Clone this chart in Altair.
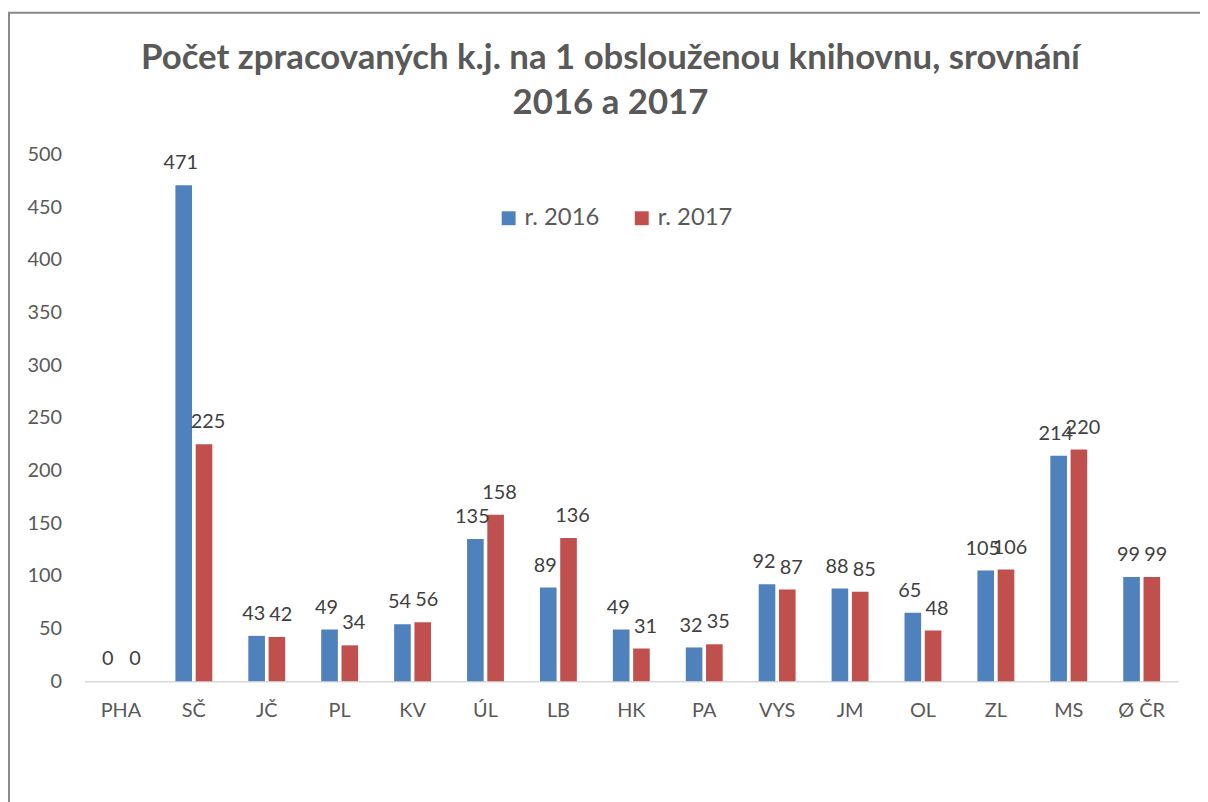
import altair as alt
import pandas as pd

categories = ["PHA", "SČ", "JČ", "PL", "KV", "ÚL", "LB", "HK", "PA", "VYS", "JM", "OL", "ZL", "MS", "Ø ČR"]
values_2016 = [0, 471, 43, 49, 54, 135, 89, 49, 32, 92, 88, 65, 105, 214, 99]
values_2017 = [0, 225, 42, 34, 56, 158, 136, 31, 35, 87, 85, 48, 106, 220, 99]
series = ["r. 2016", "r. 2017"]
y_ticks = [0, 50, 100, 150, 200, 250, 300, 350, 400, 450, 500]
title_lines = ["Počet zpracovaných k.j. na 1 obslouženou knihovnu, srovnání", "2016 a 2017"]

rows = []
for c, a, b in zip(categories, values_2016, values_2017):
    rows.append({"kraj": c, "rok": series[0], "hodnota": a})
    rows.append({"kraj": c, "rok": series[1], "hodnota": b})
df = pd.DataFrame(rows)

W, H = 1101, 530
FONT = "Lato"

x = alt.X(
    "kraj:N", sort=categories,
    scale=alt.Scale(paddingInner=0.494, paddingOuter=0.247),
    axis=alt.Axis(title=None, labelAngle=0, labelFontSize=20, labelColor="#595959",
                  labelFont=FONT, labelPadding=20, ticks=False,
                  domainColor="#D9D9D9", domainWidth=1.5),
)
xoff = alt.XOffset("rok:N", sort=series, scale=alt.Scale(paddingInner=0.18, paddingOuter=0))
y = alt.Y(
    "hodnota:Q",
    scale=alt.Scale(domain=[0, 500], nice=False),
    axis=alt.Axis(title=None, values=y_ticks, grid=False, domain=False, ticks=False,
                  labelFontSize=20, labelColor="#595959", labelFont=FONT, labelPadding=23),
)
color = alt.Color(
    "rok:N", sort=series,
    scale=alt.Scale(domain=series, range=["#4F81BD", "#C0504D"]),
    legend=alt.Legend(title=None, orient="none", legendX=415, legendY=52,
                      direction="horizontal", symbolType="square", symbolSize=196,
                      labelFontSize=24, labelColor="#595959", labelFont=FONT,
                      columnPadding=30, symbolStrokeWidth=0, labelOffset=4),
)

bars = alt.Chart(df).mark_bar().encode(x=x, xOffset=xoff, y=y, color=color)
labels_a = alt.Chart(df).transform_filter(alt.datum.rok == series[0]).mark_text(
    baseline="alphabetic", dy=-16, dx=-3, fontSize=20, color="#404040", font=FONT
).encode(x=x, xOffset=xoff, y=y, text="hodnota:Q")
labels_b = alt.Chart(df).transform_filter(alt.datum.rok == series[1]).mark_text(
    baseline="alphabetic", dy=-16, dx=4, fontSize=20, color="#404040", font=FONT
).encode(x=x, xOffset=xoff, y=y, text="hodnota:Q")

frame = alt.Chart(pd.DataFrame({"a": [0]})).mark_rect(
    fill="transparent", stroke="#898989", strokeWidth=2
).encode(x=alt.value(-76), y=alt.value(-143), x2=alt.value(W + 60), y2=alt.value(H + 160))

chart = alt.layer(frame, bars, labels_a, labels_b).properties(
    width=W, height=H,
    title=alt.TitleParams(text=title_lines, fontSize=35, font=FONT, fontWeight="bold",
                          color="#595959", anchor="middle", dx=-21, dy=110, offset=0,
                          lineHeight=45),
    padding={"left": 77, "top": 145, "right": 22, "bottom": 119},
    autosize=alt.AutoSizeParams(type="none"),
).configure_view(stroke=None)

chart.save("out.html", embed_options={"renderer": "svg", "actions": False})
